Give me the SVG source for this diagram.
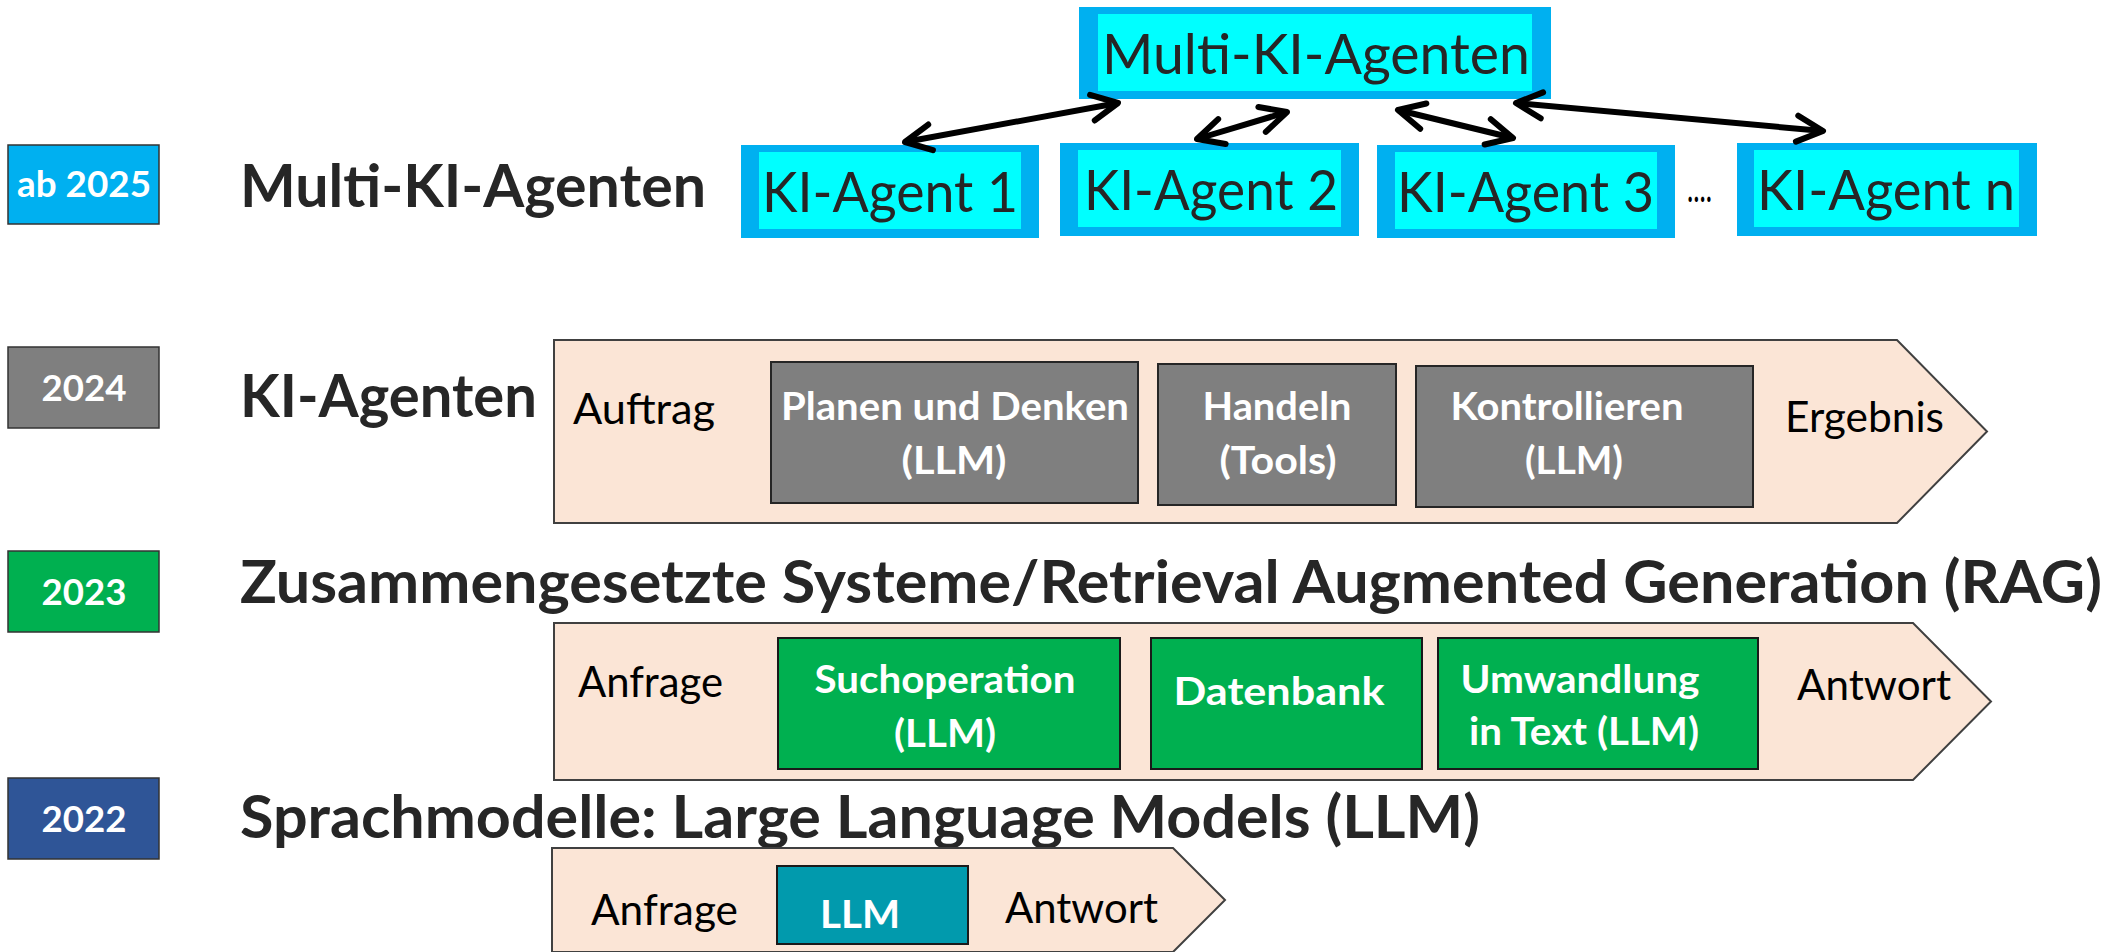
<svg xmlns="http://www.w3.org/2000/svg" width="2118" height="952" viewBox="0 0 2118 952">
<defs>
<style>
.title{font-family:Lato,"Liberation Sans",sans-serif;font-weight:bold;font-size:60px;fill:#262626}
.year{font-family:Lato,"Liberation Sans",sans-serif;font-weight:bold;font-size:37px;fill:#ffffff;text-anchor:middle}
.yearbox{stroke:#333333;stroke-width:1.5}
.agentOuter{fill:#00B0F0}
.agentInner{fill:#00FFFF}
.agent{font-family:Lato,"Liberation Sans",sans-serif;font-size:56px;fill:#262626}
.band{fill:#FBE5D6;stroke:#404040;stroke-width:2}
.lbl{font-family:Lato,"Liberation Sans",sans-serif;font-size:42px;fill:#000000}
.blbl{font-family:Lato,"Liberation Sans",sans-serif;font-weight:bold;font-size:39px;fill:#ffffff;text-anchor:middle}
.gray{fill:#7F7F7F;stroke:#262626;stroke-width:2}
.green{fill:#00B050;stroke:#1a1a1a;stroke-width:2}
.teal{fill:#019AAD;stroke:#1a1a1a;stroke-width:2}
.conn{stroke:#000000;stroke-width:6;fill:none;marker-start:url(#head);marker-end:url(#head)}
</style>
<marker id="head" markerUnits="userSpaceOnUse" viewBox="-34 -20 40 40" refX="0" refY="0" markerWidth="40" markerHeight="40" orient="auto-start-reverse">
<path d="M-26,-13 L0,0 L-26,13" fill="none" stroke="#000000" stroke-width="6" stroke-linecap="round" stroke-linejoin="round"/>
</marker>
</defs>
<rect width="2118" height="952" fill="#ffffff"/>

<!-- Year labels -->
<g id="year2025"><rect class="yearbox" x="8" y="145" width="151" height="79" fill="#00B0F0"/><text class="year" x="84" y="197" textLength="134" lengthAdjust="spacingAndGlyphs">ab 2025</text></g>
<g id="year2024"><rect class="yearbox" x="8" y="347" width="151" height="81" fill="#7F7F7F"/><text class="year" x="84" y="401" textLength="85" lengthAdjust="spacingAndGlyphs">2024</text></g>
<g id="year2023"><rect class="yearbox" x="8" y="551" width="151" height="81" fill="#00B050"/><text class="year" x="84" y="605" textLength="85" lengthAdjust="spacingAndGlyphs">2023</text></g>
<g id="year2022"><rect class="yearbox" x="8" y="778" width="151" height="81" fill="#2F5597"/><text class="year" x="84" y="832" textLength="85" lengthAdjust="spacingAndGlyphs">2022</text></g>

<!-- Titles -->
<g id="title2025"><text class="title" x="240" y="207" textLength="466" lengthAdjust="spacingAndGlyphs">Multi-KI-Agenten</text></g>
<g id="title2024"><text class="title" x="240" y="417" textLength="297" lengthAdjust="spacingAndGlyphs">KI-Agenten</text></g>
<g id="title2023"><text class="title" x="240" y="603" textLength="1862" lengthAdjust="spacingAndGlyphs">Zusammengesetzte Systeme/Retrieval Augmented Generation (RAG)</text></g>
<g id="title2022"><text class="title" x="240" y="838" textLength="1240" lengthAdjust="spacingAndGlyphs">Sprachmodelle: Large Language Models (LLM)</text></g>

<!-- Multi-agent nodes -->
<g id="multiAgents"><rect class="agentOuter" x="1079" y="7" width="472" height="92"/><rect class="agentInner" x="1098" y="14" width="434" height="77"/><text class="agent" x="1102" y="74" textLength="428" lengthAdjust="spacingAndGlyphs">Multi-KI-Agenten</text></g>
<g id="agent1"><rect class="agentOuter" x="741" y="145" width="298" height="93"/><rect class="agentInner" x="759" y="152" width="262" height="77"/><text class="agent" x="762" y="212" textLength="256" lengthAdjust="spacingAndGlyphs">KI-Agent 1</text></g>
<g id="agent2"><rect class="agentOuter" x="1060" y="143" width="299" height="93"/><rect class="agentInner" x="1078" y="150" width="263" height="77"/><text class="agent" x="1084" y="210" textLength="254" lengthAdjust="spacingAndGlyphs">KI-Agent 2</text></g>
<g id="agent3"><rect class="agentOuter" x="1377" y="145" width="298" height="93"/><rect class="agentInner" x="1395" y="152" width="262" height="77"/><text class="agent" x="1397" y="212" textLength="257" lengthAdjust="spacingAndGlyphs">KI-Agent 3</text></g>
<g id="dots"><text class="lbl" x="1687" y="202" font-size="30" textLength="25" lengthAdjust="spacingAndGlyphs">....</text></g>
<g id="agentN"><rect class="agentOuter" x="1737" y="143" width="300" height="93"/><rect class="agentInner" x="1754" y="150" width="265" height="77"/><text class="agent" x="1757" y="210" textLength="258" lengthAdjust="spacingAndGlyphs">KI-Agent n</text></g>

<!-- Connectors -->
<g id="connectors">
<line class="conn" x1="905" y1="142" x2="1118" y2="103"/>
<line class="conn" x1="1197" y1="139" x2="1287" y2="112"/>
<line class="conn" x1="1398" y1="110" x2="1513" y2="138"/>
<line class="conn" x1="1516" y1="103" x2="1823" y2="131"/>
</g>

<!-- 2024 band -->
<g id="band2024">
<polygon class="band" points="554,340 1897,340 1987,431.5 1897,523 554,523"/>
<text class="lbl" x="573" y="424" textLength="142" lengthAdjust="spacingAndGlyphs">Auftrag</text>
<text class="lbl" x="1785" y="432" textLength="159" lengthAdjust="spacingAndGlyphs">Ergebnis</text>
</g>
<g id="planen"><rect class="gray" x="771" y="362" width="367" height="141"/><text class="blbl" x="955" y="420" textLength="348" lengthAdjust="spacingAndGlyphs">Planen und Denken</text><text class="blbl" x="954" y="474" textLength="105" lengthAdjust="spacingAndGlyphs">(LLM)</text></g>
<g id="handeln"><rect class="gray" x="1158" y="364" width="238" height="141"/><text class="blbl" x="1277" y="420" textLength="149" lengthAdjust="spacingAndGlyphs">Handeln</text><text class="blbl" x="1278" y="474" textLength="117" lengthAdjust="spacingAndGlyphs">(Tools)</text></g>
<g id="kontrollieren"><rect class="gray" x="1416" y="366" width="337" height="141"/><text class="blbl" x="1567" y="420" textLength="233" lengthAdjust="spacingAndGlyphs">Kontrollieren</text><text class="blbl" x="1574" y="474" textLength="98" lengthAdjust="spacingAndGlyphs">(LLM)</text></g>

<!-- 2023 band -->
<g id="band2023">
<polygon class="band" points="554,623 1913,623 1991,701.5 1913,780 554,780"/>
<text class="lbl" x="578" y="697" textLength="145" lengthAdjust="spacingAndGlyphs">Anfrage</text>
<text class="lbl" x="1797" y="700" textLength="154" lengthAdjust="spacingAndGlyphs">Antwort</text>
</g>
<g id="suchoperation"><rect class="green" x="778" y="638" width="342" height="131"/><text class="blbl" x="945" y="693" textLength="261" lengthAdjust="spacingAndGlyphs">Suchoperation</text><text class="blbl" x="945" y="747" textLength="102" lengthAdjust="spacingAndGlyphs">(LLM)</text></g>
<g id="datenbank"><rect class="green" x="1151" y="638" width="271" height="131"/><text class="blbl" x="1279" y="705" textLength="211" lengthAdjust="spacingAndGlyphs">Datenbank</text></g>
<g id="umwandlung"><rect class="green" x="1438" y="638" width="320" height="131"/><text class="blbl" x="1580" y="693" textLength="239" lengthAdjust="spacingAndGlyphs">Umwandlung</text><text class="blbl" x="1584" y="745" textLength="230" lengthAdjust="spacingAndGlyphs">in Text (LLM)</text></g>

<!-- 2022 band -->
<g id="band2022">
<polygon class="band" points="552,848 1173,848 1225,900 1173,952 552,952"/>
<text class="lbl" x="591" y="925" textLength="147" lengthAdjust="spacingAndGlyphs">Anfrage</text>
<text class="lbl" x="1005" y="923" textLength="153" lengthAdjust="spacingAndGlyphs">Antwort</text>
</g>
<g id="llm"><rect class="teal" x="777" y="866" width="191" height="78"/><text class="blbl" x="860" y="928" font-size="40" textLength="80" lengthAdjust="spacingAndGlyphs">LLM</text></g>
</svg>
